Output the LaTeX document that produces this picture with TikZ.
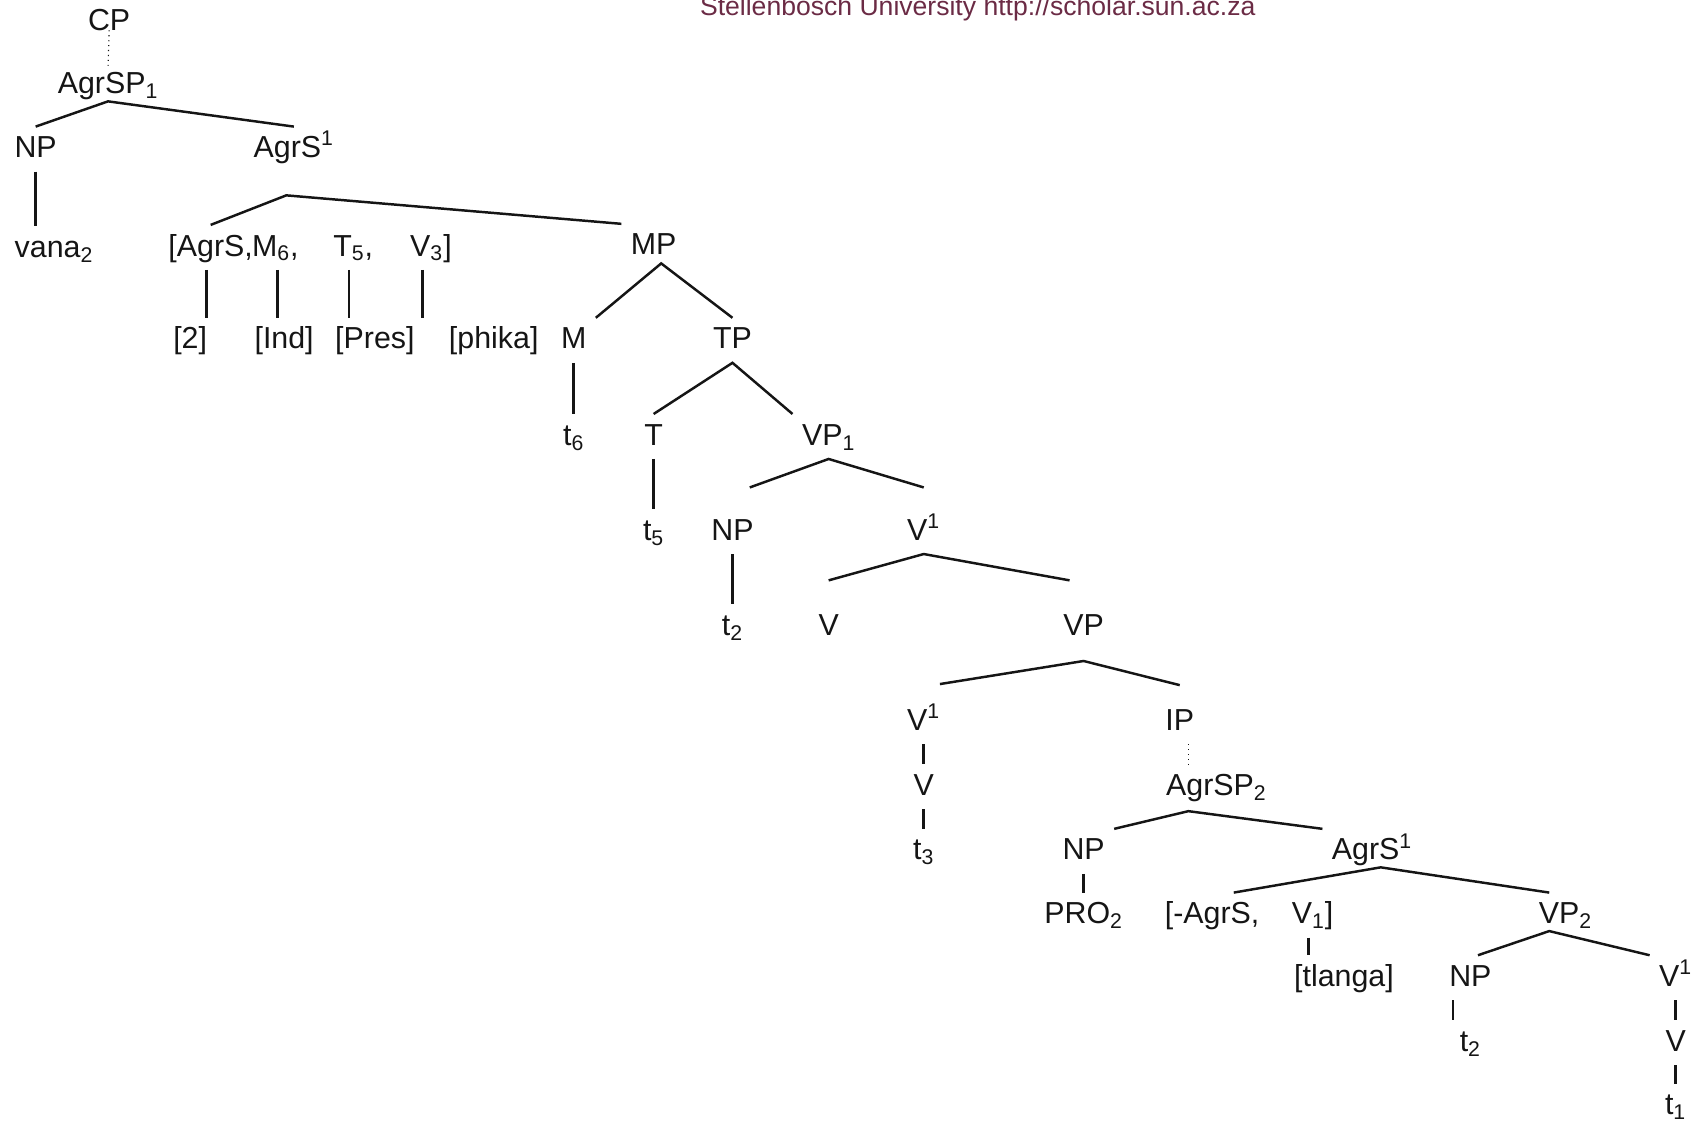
\documentclass[tikz,border=0pt]{standalone}
\usepackage{fontspec}
\setmainfont{Liberation Sans}
\definecolor{Ink}{HTML}{151515}
\definecolor{Wine}{HTML}{6B2B45}
\tikzset{
  cat/.style={font=\fontsize{16}{19}\selectfont,text=Ink,inner sep=0pt,outer sep=5pt,text height=11.4pt,text depth=2.3pt},
  br/.style={draw=Ink,line width=1.3pt},
  dotbr/.style={draw=Ink,dotted,line width=.6pt},
  wm/.style={font=\fontsize{14}{16}\selectfont,text=Wine,inner sep=0pt}
}
\begin{document}
\begin{tikzpicture}[x=0.02cm,y=-0.02cm]
    \useasboundingbox (0,0) rectangle (1568,1038);
    \node[wm,anchor=base] (src) at (905,14) {Stellenbosch University http://scholar.sun.ac.za};
    \node[cat] (cp) at (101,20) {CP};
    \node[cat] (agrsp1) at (100,79) {AgrSP\textsubscript{1}};
    \node[cat] (np1) at (33,138) {NP}; \node[cat] (agrsb1) at (272,138) {AgrS\textsuperscript{1}};
    \node[cat] (vana) at (50,230) {vana\textsubscript{2}};
    \node[cat] (fagr) at (195,229) {\llap{[}AgrS\rlap{,}};
    \node[cat] (fm) at (251,229) {M\textsubscript{6}\rlap{,}};
    \node[cat] (ft) at (323,229) {T\textsubscript{5}\rlap{,}};
    \node[cat] (fv) at (395,229) {V\textsubscript{3}\rlap{]}};
    \node[cat] (mp) at (605,228) {MP};
    \node[cat] (two) at (176,315) {[2]}; \node[cat] (ind) at (263,315) {[Ind]};
    \node[cat] (pres) at (347,315) {[Pres]}; \node[cat] (phika) at (457,315) {[phika]};
    \node[cat] (m) at (531,315) {M}; \node[cat] (tp) at (678,315) {TP};
    \node[cat] (t6) at (531,404) {t\textsubscript{6}}; \node[cat] (t) at (605,404) {T};
    \node[cat] (vp1) at (767,404) {VP\textsubscript{1}};
    \node[cat] (t5) at (605,492) {t\textsubscript{5}}; \node[cat] (np2) at (678,492) {NP};
    \node[cat] (vbar1) at (855,492) {V\textsuperscript{1}};
    \node[cat] (t2a) at (678,580) {t\textsubscript{2}}; \node[cat] (v1) at (767,580) {V};
    \node[cat] (vp) at (1003,580) {VP};
    \node[cat] (vbar2) at (855,668) {V\textsuperscript{1}}; \node[cat] (ip) at (1092,668) {IP};
    \node[cat] (v2) at (855,728) {V}; \node[cat] (agrsp2) at (1126,728) {AgrSP\textsubscript{2}};
    \node[cat] (t3) at (855,788) {t\textsubscript{3}}; \node[cat] (np3) at (1003,788) {NP};
    \node[cat] (agrsb2) at (1270,788) {AgrS\textsuperscript{1}};
    \node[cat] (pro) at (1003,847) {PRO\textsubscript{2}};
    \node[cat] (fnagr) at (1122,847) {\llap{[}-AgrS\rlap{,}};
    \node[cat] (fv1) at (1211,847) {V\textsubscript{1}\rlap{]}};
    \node[cat] (vp2) at (1449,847) {VP\textsubscript{2}};
    \node[cat] (tlanga) at (1244,905) {[tlanga]}; \node[cat] (np4) at (1361,905) {NP};
    \node[cat] (vbar3) at (1551,905) {V\textsuperscript{1}};
    \node[cat] (t2b) at (1361,965) {t\textsubscript{2}}; \node[cat] (v3) at (1551,965) {V};
    \node[cat] (t1) at (1551,1024) {t\textsubscript{1}};
    \draw[dotbr] (cp.base) -- ([shift={(0,6)}]agrsp1.north);
    \draw[br] (np1.north) -- ([shift={(0,-6)}]agrsp1.south) -- (agrsb1.north);
    \draw[br] (np1.south) -- (np1.south |- vana.north);
    \draw[br] (fagr.north) -- ([shift={(-7,22)}]agrsb1.south) -- (mp.north west);
    \draw[br] ([shift={(-4,0)}]fagr.south) -- ([shift={(-4,0)}]fagr.south |- two.north);
    \draw[br] ([shift={(6,0)}]fm.south) -- ([shift={(6,0)}]fm.south |- ind.north);
    \draw[br] (ft.south) -- (ft.south |- pres.north);
    \draw[br] ([shift={(-4,0)}]fv.south) -- ([shift={(-4,0)}]fv.south |- phika.north);
    \draw[br] (m.north east) -- ([shift={(7,-5)}]mp.south) -- (tp.north);
    \draw[br] (m.south) -- (t6.north);
    \draw[br] (t.north) -- (tp.south) -- (vp1.north west);
    \draw[br] (t.south) -- (t5.north);
    \draw[br] ([shift={(16,-20)}]np2.north) -- (vp1.south) -- ([shift={(0,-20)}]vbar1.north);
    \draw[br] (np2.south) -- (t2a.north);
    \draw[br] ([shift={(0,-22)}]v1.north) -- (vbar1.south) -- ([shift={(-13,-22)}]vp.north);
    \draw[br] ([shift={(15,-14)}]vbar2.north) -- ([shift={(0,11)}]vp.south) -- ([shift={(0,-13)}]ip.north);
    \draw[br] (vbar2.south) -- (v2.north);
    \draw[br] (v2.south) -- (t3.north);
    \draw[dotbr] ([shift={(8,0)}]ip.south) -- ([shift={(8,0)}]ip.south |- agrsp2.north);
    \draw[br] (np3.north east) -- ([shift={(-26,2)}]agrsp2.south) -- (agrsb2.north west);
    \draw[br] (np3.south) -- (pro.north);
    \draw[br] ([shift={(20,0)}]fnagr.north) -- ([shift={(8,-6)}]agrsb2.south) -- ([shift={(-15,0)}]vp2.north);
    \draw[br] (fv1.south) -- (fv1.south |- tlanga.north);
    \draw[br] ([shift={(7,0)}]np4.north) -- ([shift={(-15,-6)}]vp2.south) -- (vbar3.north west);
    \draw[br] ([shift={(-16,0)}]np4.south) -- ([shift={(-16,0)}]np4.south |- t2b.north);
    \draw[br] (vbar3.south) -- (v3.north);
    \draw[br] (v3.south) -- (t1.north);
\end{tikzpicture}
\end{document}
